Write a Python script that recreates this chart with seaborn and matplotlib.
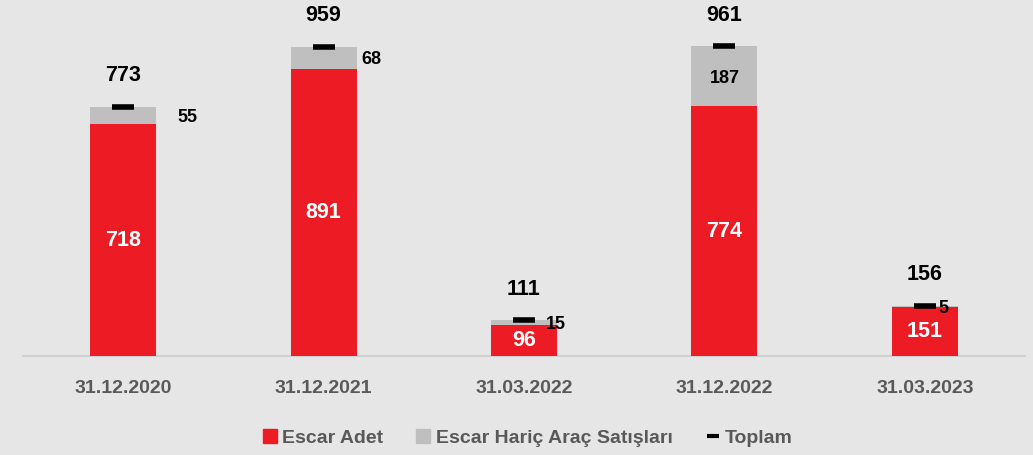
import matplotlib
matplotlib.use("Agg")
import matplotlib.pyplot as plt
from matplotlib.lines import Line2D
import numpy as np
import pandas as pd
import seaborn as sns

# --------------------------------------------------------------------------- #
# Data
# --------------------------------------------------------------------------- #
periods = ["31.12.2020", "31.12.2021", "31.03.2022", "31.12.2022", "31.03.2023"]
escar_adet = [718, 891, 96, 774, 151]
haric_arac = [55, 68, 15, 187, 5]
toplam = [773, 959, 111, 961, 156]

# where the grey-segment label sits (pixels right of bar centre; 0 = inside bar)
GREY_LABEL_DX = [64, 48, 32, 0, 19]

RED = "#ED1C24"
GREY = "#BFBFBF"
BG = "#E6E6E6"
TXT = "#595959"
AXIS = "#CFCFCF"

sns.set_style("white")
plt.rcParams["font.family"] = ["Liberation Sans", "DejaVu Sans"]
plt.rcParams["font.weight"] = "bold"

df = pd.DataFrame({"period": periods, "escar": escar_adet,
                   "haric": haric_arac, "toplam": toplam})

fig = plt.figure(figsize=(10.33, 4.55), dpi=100, facecolor=BG)
ax = fig.add_axes([23 / 1033, 99 / 455, 1002 / 1033, 356 / 455])
ax.set_facecolor(BG)

# total bar in grey, red bar overlaid -> stacked look
sns.barplot(data=df, x="period", y="toplam", color=GREY, width=0.33,
            saturation=1, linewidth=0, ax=ax, zorder=2)
sns.barplot(data=df, x="period", y="escar", color=RED, width=0.33,
            saturation=1, linewidth=0, ax=ax, zorder=3)

x = np.arange(len(periods))
ax.plot(x, df["toplam"], ls="none", marker="_", ms=16, mew=4,
        color="black", zorder=5)

for i, row in df.iterrows():
    # red segment value
    ax.text(i, row["escar"] / 2, f"{row['escar']}", ha="center", va="center",
            color="white", fontsize=15.5, fontweight="bold", zorder=6)
    # grey segment value
    ymid = row["escar"] + row["haric"] / 2
    ax.annotate(f"{row['haric']}", (i, ymid), xytext=(GREY_LABEL_DX[i], -2),
                textcoords="offset pixels", ha="center", va="center",
                color="black", fontsize=13, fontweight="bold", zorder=6)
    # total value
    ax.annotate(f"{row['toplam']}", (i, row["toplam"]), xytext=(0, 31),
                textcoords="offset pixels", ha="center", va="center",
                color="black", fontsize=15.5, fontweight="bold", zorder=6)

ax.set_xlim(-0.5, len(periods) - 0.5)
ax.set_ylim(0, 1104)
ax.set_yticks([])
ax.set_xlabel("")
ax.set_ylabel("")
for side in ["top", "right", "left"]:
    ax.spines[side].set_visible(False)
ax.spines["bottom"].set_color(AXIS)
ax.spines["bottom"].set_linewidth(1.5)

ax.set_xticks(x)
ax.set_xticklabels(periods, fontsize=14, fontweight="bold", color=TXT)
ax.set_xticks(np.arange(-0.5, len(periods)), minor=True)
ax.tick_params(axis="x", which="major", length=0, pad=17)
ax.tick_params(axis="x", which="minor", length=7, width=1.2, color=AXIS,
               direction="out")

handles = [
    Line2D([], [], ls="none", marker="s", ms=10, color=RED),
    Line2D([], [], ls="none", marker="s", ms=10, color=GREY),
    Line2D([], [], ls="none", marker="_", ms=9, mew=3, color="black"),
]
leg = fig.legend(handles, ["Escar Adet", "Escar Hariç Araç Satışları", "Toplam"],
                 loc="center", bbox_to_anchor=(0.511, 0.038), ncol=3,
                 frameon=False, handlelength=0.7, handletextpad=0.3,
                 columnspacing=1.7, prop={"size": 14, "weight": "bold"})
for t in leg.get_texts():
    t.set_color(TXT)

fig.savefig("out.png", dpi=100, facecolor=BG)
